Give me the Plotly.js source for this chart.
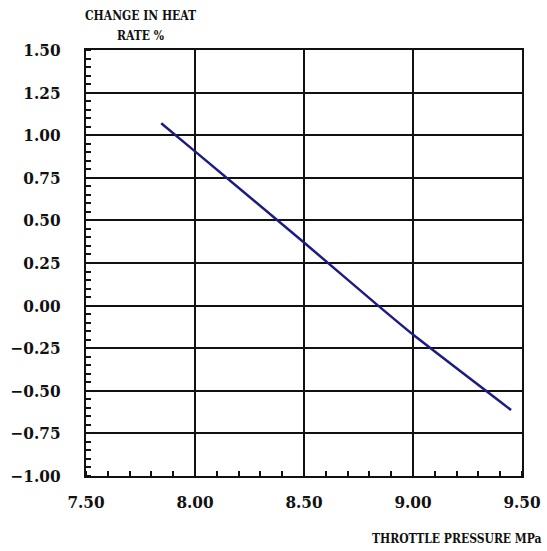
<!DOCTYPE html>
<html>
<head>
<meta charset="utf-8">
<script src="https://cdn.plot.ly/plotly-3.0.1.min.js"></script>
<style>html,body{margin:0;padding:0;background:#fff;}#chart{width:547px;height:551px;}</style>
</head>
<body>
<div id="chart"></div>
<script>
var pressure = [7.845, 8.00, 8.50, 8.84, 9.00, 9.45];
var heatRateChange = [1.07, 0.905, 0.37, 0.00, -0.17, -0.613];
var xTickVals = [7.5, 8.0, 8.5, 9.0, 9.5];
var xTickText = ["7.50", "8.00", "8.50", "9.00", "9.50"];
var yTickVals = [1.5, 1.25, 1.0, 0.75, 0.5, 0.25, 0.0, -0.25, -0.5, -0.75, -1.0];
var yTickText = ["1.50", "1.25", "1.00", "0.75", "0.50", "0.25", "0.00", "\u22120.25", "\u22120.50", "\u22120.75", "\u22121.00"];
var xTitle = "THROTTLE PRESSURE MPa";
var yTitleLines = ["CHANGE IN HEAT", "RATE %"];

var tickFont = {family: "DejaVu Serif Condensed, DejaVu Serif, serif", size: 17, color: "#111", weight: "bold"};
var titleFont = {family: "DejaVu Serif Condensed, DejaVu Serif, serif", size: 12, color: "#111", weight: "bold"};

var trace = {
  x: pressure, y: heatRateChange, mode: "lines", type: "scatter",
  line: {color: "#1c1c84", width: 2.5, shape: "spline", smoothing: 0.6}, hoverinfo: "skip"
};

var layout = {
  width: 547, height: 551,
  margin: {l: 86, r: 25, t: 50, b: 75},
  paper_bgcolor: "#fff", plot_bgcolor: "#fff",
  showlegend: false,
  xaxis: {
    range: [7.5, 9.5], tickvals: xTickVals, ticktext: xTickText,
    tickfont: tickFont, showgrid: true, gridcolor: "#111", gridwidth: 2,
    showline: true, linecolor: "#111", linewidth: 2, mirror: true,
    ticks: "", ticklabelstandoff: 10, zeroline: false,
    minor: {dtick: 0.1, ticks: "inside", ticklen: 5, tickcolor: "#111", tickwidth: 2, showgrid: false}
  },
  yaxis: {
    range: [-1.0, 1.5], tickvals: yTickVals, ticktext: yTickText,
    tickfont: tickFont, showgrid: true, gridcolor: "#111", gridwidth: 2,
    showline: true, linecolor: "#111", linewidth: 2, mirror: true,
    ticks: "", ticklabelstandoff: 20, zeroline: false,
    minor: {dtick: 0.05, ticks: "inside", ticklen: 5, tickcolor: "#111", tickwidth: 2, showgrid: false}
  },
  annotations: [
    {text: yTitleLines[0], xref: "paper", yref: "paper", x: 0.124, y: 1.080, xanchor: "center", yanchor: "middle",
     showarrow: false, font: titleFont},
    {text: yTitleLines[1], xref: "paper", yref: "paper", x: 0.124, y: 1.033, xanchor: "center", yanchor: "middle",
     showarrow: false, font: titleFont},
    {text: xTitle, xref: "paper", yref: "paper", x: 1.05, y: -0.148, xanchor: "right", yanchor: "middle",
     showarrow: false, font: {family: titleFont.family, size: 12, color: "#111", weight: "bold"}}
  ]
};

Plotly.newPlot("chart", [trace], layout, {staticPlot: true, displayModeBar: false});
</script>
</body>
</html>
